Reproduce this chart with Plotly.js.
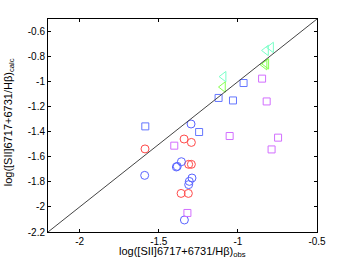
<!DOCTYPE html>
<html>
<head>
<meta charset="utf-8">
<script src="https://cdn.plot.ly/plotly-3.0.1.min.js"></script>
<style>html,body{margin:0;padding:0;background:#fff;}#plot{width:349px;height:263px;}</style>
</head>
<body>
<div id="plot"></div>
<script>
// Red circles
const redCircX = [-1.587, -1.340, -1.294, -1.311, -1.294, -1.359, -1.313];
const redCircY = [-1.537, -1.458, -1.485, -1.660, -1.660, -1.892, -1.892];
// Blue circles
const blueCircX = [-1.589, -1.296, -1.357, -1.389, -1.383, -1.290, -1.307, -1.311, -1.338];
const blueCircY = [-1.748, -1.338, -1.639, -1.681, -1.676, -1.769, -1.796, -1.822, -2.104];
// Blue squares
const blueSqX = [-1.585, -1.245, -0.964, -1.122, -1.031];
const blueSqY = [-1.357, -1.402, -1.011, -1.130, -1.150];
// Purple squares
const purpSqX = [-1.402, -1.319, -0.847, -0.818, -1.052, -0.746, -0.787];
const purpSqY = [-1.511, -2.048, -0.976, -1.158, -1.434, -1.447, -1.541];
// Cyan triangles
const cyanTriX = [-0.790, -0.822, -1.090];
const cyanTriY = [-0.727, -0.751, -0.960];
// Green triangles
const greenTriX = [-0.831, -0.820, -1.094];
const greenTriY = [-0.865, -0.858, -1.043];
// 1:1 line
const diagLine = [-2.2, -0.5];
const xTicks = [-2, -1.5, -1, -0.5];
const yTicks = [-2.2, -2, -1.8, -1.6, -1.4, -1.2, -1, -0.8, -0.6];

function mk(x, y, sym, col, size) {
  return {x: x, y: y, type: 'scatter', mode: 'markers', hoverinfo: 'skip',
    marker: {symbol: sym, size: size, color: col, line: {color: col, width: 1}}};
}
const traces = [
  mk(redCircX, redCircY, 'circle-open', '#ff4a4a', 8),
  mk(blueCircX, blueCircY, 'circle-open', '#5a64ff', 8),
  mk(blueSqX, blueSqY, 'square-open', '#6476ff', 7),
  mk(purpSqX, purpSqY, 'square-open', '#d26eff', 7),
  mk(cyanTriX, cyanTriY, 'triangle-left-open', '#7affc8', 9),
  mk(greenTriX, greenTriY, 'triangle-left-open', '#86ff50', 9),
  {x: diagLine, y: diagLine, type: 'scatter', mode: 'lines', hoverinfo: 'skip',
   line: {color: '#444', width: 1}}
];
const font = {family: 'Liberation Sans, Arial, sans-serif', size: 10, color: '#000'};
const axisCommon = {
  showgrid: false, zeroline: false, showline: true, linecolor: '#000', linewidth: 1,
  mirror: 'ticks', ticks: 'inside', ticklen: 3, tickcolor: '#000', tickwidth: 1,
  tickfont: font
};
const layout = {
  width: 349, height: 263,
  margin: {l: 48, r: 32, t: 19, b: 31},
  paper_bgcolor: '#fff', plot_bgcolor: '#fff',
  showlegend: false,
  font: font,
  xaxis: Object.assign({}, axisCommon, {range: [-2.2, -0.5], tickvals: xTicks, ticktext: xTicks.map(String)}),
  yaxis: Object.assign({}, axisCommon, {range: [-2.2, -0.5], tickvals: yTicks, ticktext: yTicks.map(String)}),
  annotations: [
    {text: 'log([SII]6717+6731/Hβ)<sub>obs</sub>', xref: 'paper', yref: 'paper',
     x: 0.5, y: -0.05, xanchor: 'center', yanchor: 'top', showarrow: false,
     font: {family: 'Liberation Sans, Arial, sans-serif', size: 11, color: '#000'}},
    {text: 'log([SII]6717+6731/Hβ)<sub>calc</sub>', xref: 'paper', yref: 'paper',
     x: -0.145, y: 0.515, xanchor: 'center', yanchor: 'middle', textangle: -90, showarrow: false,
     font: {family: 'Liberation Sans, Arial, sans-serif', size: 11, color: '#000'}}
  ]
};
Plotly.newPlot('plot', traces, layout, {displayModeBar: false, staticPlot: true});
</script>
</body>
</html>
